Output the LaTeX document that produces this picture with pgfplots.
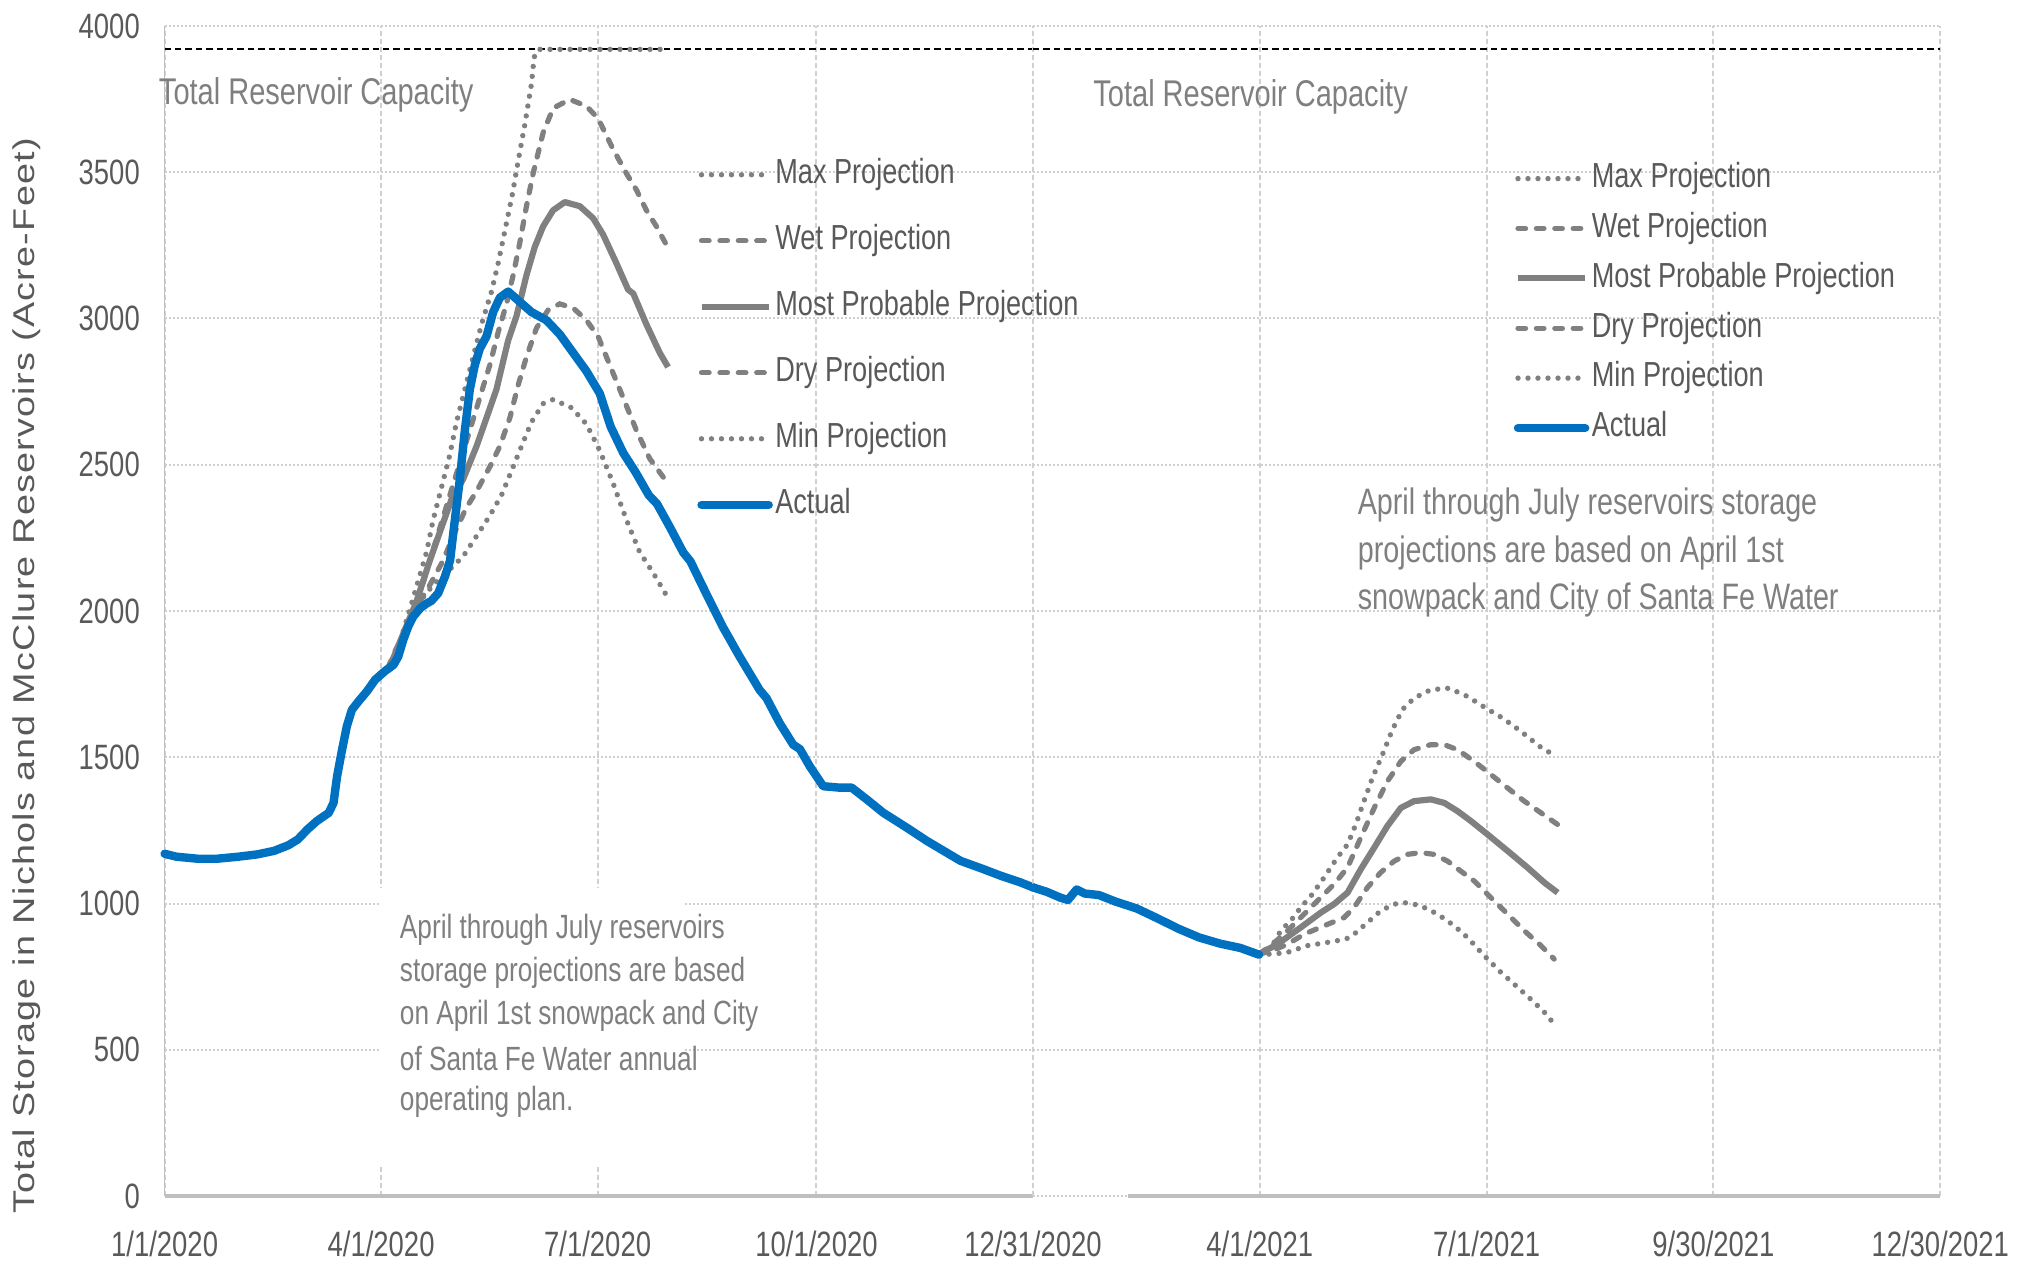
\documentclass[border=0pt]{standalone}
\usepackage{fontspec}
\setmainfont{Liberation Sans}[FakeStretch=0.78]
\newfontfamily\ylabfont{Liberation Sans}[FakeStretch=1.26,LetterSpace=4]
\usepackage{pgfplots}
\pgfplotsset{compat=1.18}

\definecolor{projgray}{HTML}{808080}
\definecolor{actblue}{HTML}{0070C0}
\definecolor{txtgray}{HTML}{595959}
\definecolor{anngray}{HTML}{7F7F7F}
\definecolor{gridgray}{HTML}{D0D0D0}
\definecolor{axgray}{HTML}{BFBFBF}

\tikzset{
  maxmin/.style={projgray, line width=1.35pt, line cap=round, dash pattern=on 0pt off 2.5pt},
  wetdry/.style={projgray, line width=1.3pt, line cap=round, dash pattern=on 1.9pt off 2.7pt},
  mostprob/.style={projgray, line width=1.55pt, line join=round},
  actual/.style={actblue, line width=2.1pt, line join=round, line cap=round},
  capline/.style={black, line width=0.45pt, dash pattern=on 1.6pt off 1pt},
}

\pgfplotsset{
  base/.style={
    scale only axis, height=292.5pt, ymin=0, ymax=4000, ytick={0,500,...,4000},
    axis line style={draw=none}, major tick length=0pt, grid=major,
    x grid style={gridgray, line width=0.5pt, dash pattern=on 1.2pt off 0.8pt},
    y grid style={gridgray, line width=0.5pt, dash pattern=on 0.5pt off 0.5pt},
    clip=false, anchor=south west,
    tick label style={font=\fontsize{8.8}{10}\selectfont, text=txtgray},
    xticklabel style={anchor=center, yshift=-12pt, inner sep=0pt},
    yticklabel style={anchor=east, xshift=-6pt, inner sep=0pt},
    /pgf/number format/assume math mode=true,
    /pgf/number format/1000 sep={},
    legend cell align=left,
    legend style={draw=none, fill=none, font=\fontsize{8.7}{10}\selectfont, text=txtgray,
      inner sep=0pt, outer sep=0pt, anchor=north west, column sep=0.6pt,
      nodes={inner sep=0pt, text height=6.2pt, text depth=1.8pt}},
    legend image code/.code={\draw[##1] (0pt,0pt) -- (16.8pt,0pt);},
  }
}

\begin{document}
\begin{tikzpicture}
% ---------------- 2020 panel ----------------
\begin{axis}[base, at={(41.15pt,17pt)}, width=217.1pt, xmin=0, xmax=365,
  xtick={0,91,182,274,365},
  xticklabels={1/1/2020,4/1/2020,7/1/2020,10/1/2020,12/31/2020},
  legend style={at={(axis cs:223.9,3546)}, row sep=8.5pt}]
\fill[white] (axis cs:90.4,102) rectangle (axis cs:218.5,1054);
\draw[axgray, line width=0.4pt] (axis cs:0,4000) -- (axis cs:0,0);
\draw[axgray, line width=0.8pt] (axis cs:0,0) -- (axis cs:365,0);
\addplot[capline, forget plot] coordinates {(0,3920) (365,3920)};
% Max
\addplot[maxmin] coordinates {(94,1805) (98.9,1894) (103.1,2006) (106.6,2103) (110.1,2201) (112.9,2312) (116.4,2423) (119.9,2535) (122.7,2646) (126.2,2758) (129.7,2869) (133.2,2980) (137.4,3092) (140.2,3189) (143.4,3315) (146.2,3426) (148.6,3538) (151.4,3663) (154.2,3802) (155.3,3893) (157,3920) (212,3920)};
\addlegendentry{Max Projection}
% Wet
\addplot[wetdry] coordinates {(94,1805) (97.5,1852) (103.1,1964) (107.3,2061) (111.5,2173) (115.7,2284) (119.9,2396) (124.1,2507) (128.3,2618) (132.5,2730) (136.7,2841) (140.2,2953) (143.7,3050) (146.5,3148) (149.3,3259) (152.1,3384) (154.9,3496) (159.1,3635) (163.3,3719) (170.3,3749) (177.3,3726) (182.2,3684) (188.5,3579) (194.1,3496) (198.3,3440) (202.5,3370) (206.7,3315) (210.9,3252)};
\addlegendentry{Wet Projection}
% Most probable
\addplot[mostprob] coordinates {(94,1805) (96.1,1838) (100.3,1922) (105.9,2033) (111.5,2173) (115.7,2270) (120.6,2382) (125.5,2451) (131.1,2563) (135.3,2660) (139.5,2758) (144.4,2925) (147.9,3008) (152.1,3148) (155.6,3245) (159.1,3315) (163.3,3370) (168.2,3398) (174.5,3384) (180.1,3343) (184.3,3287) (189.9,3189) (194.8,3099) (197,3085) (202.5,2980) (208.1,2883) (211.6,2834)};
\addlegendentry{Most Probable Projection}
% Dry
\addplot[wetdry] coordinates {(94,1805) (96.1,1852) (101.7,1936) (107.3,2033) (111.5,2089) (117.1,2173) (122,2270) (126.9,2354) (131.1,2409) (136.7,2493) (140.9,2563) (145.1,2660) (148.6,2772) (152.1,2869) (156.3,2967) (161.2,3029) (166.1,3050) (171.7,3036) (177.3,2994) (182.2,2939) (187.1,2841) (192.7,2730) (198.3,2618) (203.9,2521) (210.2,2451)};
\addlegendentry{Dry Projection}
% Min
\addplot[maxmin] coordinates {(94,1805) (98.2,1852) (103.1,1950) (107.3,2033) (112.9,2089) (118.5,2131) (125.5,2187) (131.1,2256) (136.7,2326) (141.6,2396) (145.8,2479) (150,2563) (154.2,2646) (159.1,2709) (163.3,2723) (171,2695) (177.3,2639) (182.9,2549) (188.5,2437) (194.1,2312) (199.7,2201) (205.3,2131) (210.9,2054)};
\addlegendentry{Min Projection}
% Actual
\addplot[actual] coordinates {(0,1170) (5,1160) (14,1153) (22,1153) (31,1160) (39,1168) (46,1180) (52,1199) (56,1219) (60,1253) (64,1282) (69,1310) (71,1344) (72.5,1435) (74.6,1526) (76.6,1606) (78.7,1662) (81.5,1691) (85,1725) (88.5,1765) (92.7,1795) (96.2,1816) (98.2,1844) (100.3,1901) (102.4,1947) (104.5,1981) (107.5,2010) (110,2025) (112.2,2035) (115,2061) (117.8,2117) (120,2173) (122,2312) (124.1,2451) (126.2,2618) (128.3,2758) (130.4,2841) (132.5,2897) (135.3,2939) (138.1,3022) (140.9,3071) (144.4,3092) (149.3,3057) (154.2,3022) (160.5,2994) (166.1,2946) (171.7,2883) (177.3,2820) (182.9,2744) (187.5,2630) (192.8,2540) (198,2474) (203.5,2396) (207,2366) (212.5,2285) (218,2200) (221,2170) (227.6,2060) (234.6,1946) (241.7,1844) (250.1,1730) (253,1702) (258.5,1617) (264.2,1543) (267,1528) (271.2,1469) (276.8,1401) (283.8,1396) (288.8,1396) (295.1,1356) (302.1,1310) (312,1259) (320.4,1214) (334.5,1146) (344.3,1117) (351.4,1095) (359.8,1072) (365,1055)};
\addlegendentry{Actual}
\node[anchor=west, text=anngray, font=\fontsize{9.3}{11}\selectfont, inner sep=0pt] at (axis cs:-2.7,3765) {Total Reservoir Capacity};
\begin{scope}[every node/.style={anchor=west, text=anngray, font=\fontsize{8.4}{10}\selectfont, inner sep=0pt}]
\node at (axis cs:98.6,910) {April through July reservoirs};
\node at (axis cs:98.6,763) {storage projections are based};
\node at (axis cs:98.6,616) {on April 1st snowpack and City};
\node at (axis cs:98.6,470) {of Santa Fe Water annual};
\node at (axis cs:98.6,323) {operating plan.};
\end{scope}
\end{axis}

% ---------------- 2021 panel ----------------
\begin{axis}[base, at={(258.25pt,17pt)}, width=226.8pt, xmin=365, xmax=729,
  xtick={365,456,547,638,729},
  xticklabels={,4/1/2021,7/1/2021,9/30/2021,12/30/2021},
  yticklabels={},
  legend style={at={(axis cs:557.9,3533)}, row sep=4.47pt}]
\draw[axgray, line width=0.8pt] (axis cs:403,0) -- (axis cs:729,0);
\addplot[capline, forget plot] coordinates {(365,3920) (729,3920)};
% Max
\addplot[maxmin] coordinates {(455.7,827) (461.1,856) (464.4,907) (468.4,941) (472.4,986) (477.1,1032) (481.8,1089) (487.1,1157) (491.2,1202) (494.5,1270) (497.8,1350) (501.2,1430) (505.2,1509) (509.2,1594) (513.2,1663) (517.9,1702) (524.6,1731) (531.9,1736) (539.3,1708) (546.7,1668) (553.4,1634) (560.7,1589) (568.1,1538) (574.8,1503)};
\addlegendentry{Max Projection}
% Wet
\addplot[wetdry] coordinates {(455.7,827) (461.1,861) (465.7,895) (472.4,952) (479.1,1009) (485.8,1066) (491.2,1123) (496.5,1225) (501.9,1327) (507.2,1418) (512.6,1486) (517.9,1526) (524.6,1543) (530,1543) (535.3,1526) (542,1486) (548.7,1441) (555.4,1395) (562.1,1350) (568.8,1310) (575.5,1270)};
\addlegendentry{Wet Projection}
% Most probable
\addplot[mostprob] coordinates {(455.7,827) (463.1,861) (472.4,918) (480.5,969) (485.8,998) (491.2,1037) (496.5,1117) (501.9,1191) (507.2,1265) (512.6,1327) (517.9,1350) (524.6,1356) (530,1344) (535.3,1316) (540.7,1282) (547.4,1236) (555.4,1180) (563.4,1123) (570.1,1072) (575.5,1037)};
\addlegendentry{Most Probable Projection}
% Dry
\addplot[wetdry] coordinates {(455.7,827) (461.1,839) (467.1,861) (473.8,895) (481.8,924) (489.8,952) (493.8,986) (499.2,1055) (504.5,1106) (509.9,1145) (515.2,1168) (520.6,1174) (525.9,1168) (531.3,1145) (536.6,1111) (542,1077) (548.7,1020) (555.4,964) (562.1,907) (568.8,856) (574.1,810)};
\addlegendentry{Dry Projection}
% Min
\addplot[maxmin] coordinates {(455.7,827) (461.1,827) (467.1,833) (475.1,856) (483.1,867) (490.5,878) (493.8,895) (499.2,935) (504.5,975) (509.9,998) (515.2,1003) (520.6,992) (527.3,964) (534,924) (539.3,884) (546,822) (552.7,765) (559.4,714) (566.1,662) (571.5,617) (574.8,577)};
\addlegendentry{Min Projection}
% Actual
\addplot[actual] coordinates {(365,1055) (370.5,1040) (376,1020) (379,1012) (382.5,1048) (385.8,1034) (391.4,1029) (398.3,1006) (406.6,983) (415,949) (423.3,914) (431.6,884) (440,863) (448.2,848) (455.7,825)};
\addlegendentry{Actual}
\node[anchor=west, text=anngray, font=\fontsize{9.3}{11}\selectfont, inner sep=0pt] at (axis cs:388.9,3756) {Total Reservoir Capacity};
\begin{scope}[every node/.style={anchor=west, text=anngray, font=\fontsize{9.2}{11}\selectfont, inner sep=0pt}]
\node at (axis cs:495,2361) {April through July reservoirs storage};
\node at (axis cs:495,2197) {projections are based on April 1st};
\node at (axis cs:495,2038) {snowpack and City of Santa Fe Water};
\end{scope}
\end{axis}

\node[rotate=90, text=txtgray, font={\fontsize{7.5}{9}\ylabfont}, inner sep=0pt] at (6.8pt,147pt) {Total Storage in Nichols and McClure Reservoirs (Acre-Feet)};
\pgfresetboundingbox
\path (0,0) rectangle (508pt,316pt);
\end{tikzpicture}
\end{document}
